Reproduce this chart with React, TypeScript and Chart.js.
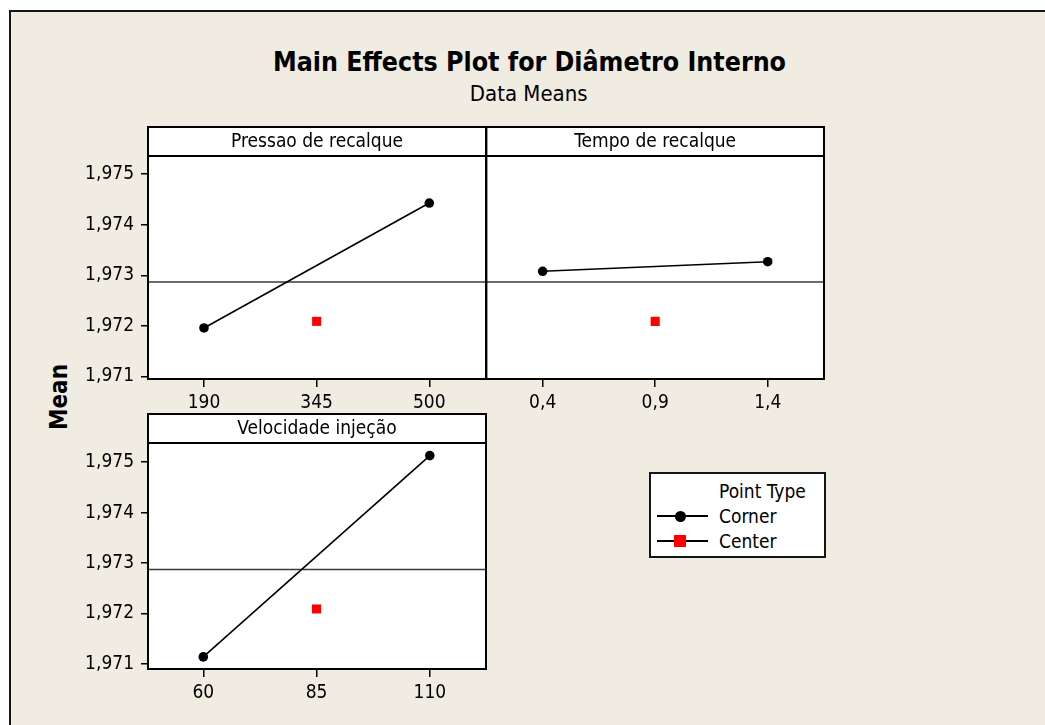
import { useEffect, useRef } from "react";
import { Chart, registerables } from "chart.js";

Chart.register(...registerables);

const FONT = "'DejaVu Sans Condensed', 'DejaVu Sans', sans-serif";

// ---------- data ----------
const chartTitle = "Main Effects Plot for Diâmetro Interno";
const chartSubtitle = "Data Means";
const yAxisTitle = "Mean";
const factorNames = ["Pressao de recalque", "Tempo de recalque", "Velocidade injeção"];

const pressaoLevels = [190, 500];
const pressaoMeans = [1.97196, 1.97443];
const pressaoCenterLevel = 345;
const pressaoTicks = [190, 345, 500];

const tempoLevels = [0.4, 1.4];
const tempoMeans = [1.97308, 1.97327];
const tempoCenterLevel = 0.9;
const tempoTicks = [0.4, 0.9, 1.4];

const velocidadeLevels = [60, 110];
const velocidadeMeans = [1.97114, 1.97513];
const velocidadeCenterLevel = 85;
const velocidadeTicks = [60, 85, 110];

const centerPointMean = 1.97209;
const overallMean = 1.97287;
const yTicks = [1.971, 1.972, 1.973, 1.974, 1.975];

const legendTitle = "Point Type";
const legendLabels = ["Corner", "Center"];

// ---------- panel ----------
type PanelProps = {
  title: string;
  levels: number[];
  means: number[];
  centerLevel: number;
  xTicks: number[];
  xMin: number;
  xMax: number;
  yMin: number;
  yMax: number;
  showY: boolean;
  left: number;
  top: number;
  width: number;
  height: number;
  padLeft: number;
  padRight: number;
  padTop: number;
};

const STRIP_H = 29;

function fmt(v: number, digits?: number) {
  const s = digits === undefined ? String(v) : v.toFixed(digits);
  return s.replace(".", ",");
}

function Panel(p: PanelProps) {
  const ref = useRef<HTMLCanvasElement | null>(null);
  useEffect(() => {
    if (!ref.current) return;
    const stripPlugin = {
      id: "strip",
      beforeDraw(chart: any) {
        const { ctx, chartArea: a } = chart;
        ctx.save();
        ctx.fillStyle = "#ffffff";
        ctx.fillRect(a.left, a.top - STRIP_H, a.right - a.left, a.bottom - a.top + STRIP_H);
        ctx.restore();
      },
      afterDraw(chart: any) {
        const { ctx, chartArea: a } = chart;
        ctx.save();
        ctx.strokeStyle = "#000000";
        ctx.lineWidth = 2;
        ctx.strokeRect(a.left, a.top, a.right - a.left, a.bottom - a.top);
        ctx.strokeRect(a.left, a.top - STRIP_H, a.right - a.left, STRIP_H);
        ctx.fillStyle = "#000000";
        ctx.font = `19px ${FONT}`;
        ctx.textAlign = "center";
        ctx.textBaseline = "alphabetic";
        ctx.fillText(p.title, (a.left + a.right) / 2, a.top - STRIP_H + 20);
        ctx.restore();
      },
    };
    const chart = new Chart(ref.current, {
      type: "scatter",
      data: {
        datasets: [
          {
            label: "mean",
            data: [
              { x: p.xMin, y: overallMean },
              { x: p.xMax, y: overallMean },
            ],
            showLine: true,
            borderColor: "#3a3a3a",
            borderWidth: 1.5,
            pointRadius: 0,
            order: 3,
          },
          {
            label: legendLabels[0],
            data: p.levels.map((x, i) => ({ x, y: p.means[i] })),
            showLine: true,
            borderColor: "#000000",
            borderWidth: 1.6,
            pointRadius: 4.8,
            pointBackgroundColor: "#000000",
            pointBorderColor: "#000000",
            pointBorderWidth: 0,
            order: 2,
          },
          {
            label: legendLabels[1],
            data: [{ x: p.centerLevel, y: centerPointMean }],
            pointStyle: "rect",
            pointRadius: 6.4,
            pointBackgroundColor: "#ff0000",
            pointBorderColor: "#ff0000",
            pointBorderWidth: 0,
            order: 1,
          },
        ],
      },
      options: {
        responsive: false,
        animation: false,
        events: [],
        layout: { padding: { left: p.padLeft, right: p.padRight, top: p.padTop, bottom: 0 } },
        plugins: {
          legend: { display: false },
          title: { display: false },
          tooltip: { enabled: false },
        },
        scales: {
          x: {
            type: "linear",
            min: p.xMin,
            max: p.xMax,
            afterBuildTicks: (s: any) => {
              s.ticks = p.xTicks.map((v) => ({ value: v }));
            },
            afterFit: (s: any) => {
              s.height = 41;
            },
            grid: { drawOnChartArea: false, drawTicks: true, tickLength: 8, color: "#000000", lineWidth: 1.5 },
            border: { display: false },
            ticks: {
              padding: 5,
              color: "#000000",
              font: { size: 19, family: FONT },
              autoSkip: false,
              maxRotation: 0,
              callback: (v: any) => fmt(Number(v)),
            },
          },
          y: {
            type: "linear",
            display: p.showY,
            min: p.yMin,
            max: p.yMax,
            afterBuildTicks: (s: any) => {
              s.ticks = yTicks.map((v) => ({ value: v }));
            },
            afterFit: (s: any) => {
              s.width = p.showY ? 88 : 0;
            },
            grid: { drawOnChartArea: false, drawTicks: true, tickLength: 7, color: "#000000", lineWidth: 1.5 },
            border: { display: false },
            ticks: {
              padding: 7,
              color: "#000000",
              font: { size: 19, family: FONT },
              autoSkip: false,
              callback: (v: any) => fmt(Number(v), 3),
            },
          },
        },
      },
      plugins: [stripPlugin],
    } as any);
    return () => chart.destroy();
  }, []);
  return (
    <canvas
      ref={ref}
      width={p.width}
      height={p.height}
      style={{ position: "absolute", left: p.left, top: p.top, width: p.width, height: p.height }}
    />
  );
}

export default function App() {
  const text: React.CSSProperties = {
    position: "absolute",
    fontFamily: FONT,
    color: "#000",
    lineHeight: 1,
    whiteSpace: "nowrap",
  };
  return (
    <div style={{ position: "absolute", left: 0, top: 0, width: 1045, height: 725, background: "#ffffff", overflow: "hidden" }}>
      <div
        style={{
          position: "absolute",
          left: 9,
          top: 10,
          width: 1036,
          height: 715,
          background: "#f0ece2",
          borderTop: "2px solid #151515",
          borderLeft: "2px solid #151515",
          boxSizing: "border-box",
        }}
      />
      <div style={{ ...text, left: 229.5, top: 49.3, width: 600, textAlign: "center", fontSize: 26.5, fontWeight: "bold" }}>
        {chartTitle}
      </div>
      <div style={{ ...text, left: 228.7, top: 83.1, width: 600, textAlign: "center", fontSize: 22 }}>{chartSubtitle}</div>
      <div
        style={{
          ...text,
          left: 58.5,
          top: 397,
          fontSize: 24,
          fontWeight: "bold",
          transform: "translate(-50%, -50%) rotate(-90deg)",
        }}
      >
        {yAxisTitle}
      </div>

      <Panel
        title={factorNames[0]}
        levels={pressaoLevels}
        means={pressaoMeans}
        centerLevel={pressaoCenterLevel}
        xTicks={pressaoTicks}
        xMin={113}
        xMax={578}
        yMin={1.97095}
        yMax={1.97536}
        showY={true}
        left={60}
        top={100}
        width={440}
        height={320}
        padLeft={0}
        padRight={14}
        padTop={56}
      />
      <Panel
        title={factorNames[1]}
        levels={tempoLevels}
        means={tempoMeans}
        centerLevel={tempoCenterLevel}
        xTicks={tempoTicks}
        xMin={0.15}
        xMax={1.65}
        yMin={1.97095}
        yMax={1.97536}
        showY={false}
        left={480}
        top={100}
        width={360}
        height={320}
        padLeft={6}
        padRight={16}
        padTop={56}
      />
      <Panel
        title={factorNames[2]}
        levels={velocidadeLevels}
        means={velocidadeMeans}
        centerLevel={velocidadeCenterLevel}
        xTicks={velocidadeTicks}
        xMin={47.8}
        xMax={122.4}
        yMin={1.9709}
        yMax={1.97538}
        showY={true}
        left={60}
        top={380}
        width={440}
        height={330}
        padLeft={0}
        padRight={14}
        padTop={63}
      />

      <div
        style={{
          position: "absolute",
          left: 649,
          top: 472,
          width: 177,
          height: 86,
          background: "#ffffff",
          border: "2px solid #151515",
          boxSizing: "border-box",
        }}
      />
      <div style={{ ...text, left: 719, top: 481.5, fontSize: 19 }}>{legendTitle}</div>
      <div style={{ position: "absolute", left: 657, top: 515, width: 51, height: 2, background: "#000" }} />
      <div style={{ position: "absolute", left: 674.5, top: 510.5, width: 11, height: 11, borderRadius: "50%", background: "#000" }} />
      <div style={{ ...text, left: 719, top: 506.8, fontSize: 19 }}>{legendLabels[0]}</div>
      <div style={{ position: "absolute", left: 657, top: 540, width: 51, height: 2, background: "#000" }} />
      <div style={{ position: "absolute", left: 674, top: 535, width: 12, height: 12, background: "#ff0000" }} />
      <div style={{ ...text, left: 719, top: 531.8, fontSize: 19 }}>{legendLabels[1]}</div>
    </div>
  );
}
